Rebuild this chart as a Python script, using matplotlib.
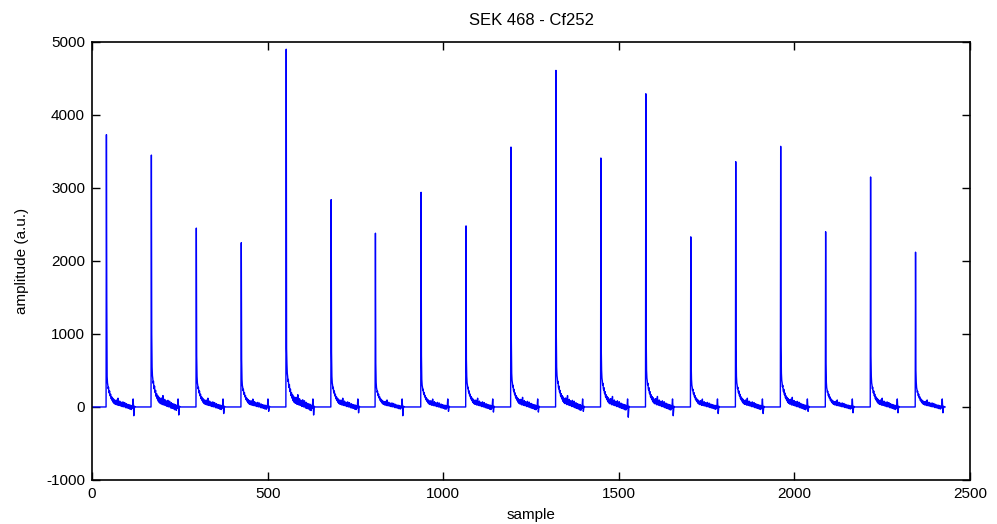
import numpy as np
import matplotlib.pyplot as plt

# pulse onsets (sample index) and peak heights
onsets = [40, 168, 296, 424, 552, 680, 806, 936, 1064, 1192, 1320, 1448,
          1576, 1704, 1832, 1960, 2088, 2216, 2344]
peaks = [3730, 3450, 2450, 2250, 4900, 2840, 2380, 2940, 2480, 3560, 4610,
         3410, 4290, 2330, 3360, 3570, 2400, 3150, 2120]
# value right after the peak (shoulder)
shoulders = [1450, 1000, 700, 650, 800, 750, 600, 700, 650, 900, 1000,
             800, 950, 600, 800, 850, 600, 700, 500]
# tail scaling and glitch depth per pulse
tail_scale = [1.0, 1.3, 1.0, 0.9, 1.4, 1.0, 0.8, 0.9, 1.0, 1.1, 1.3,
              1.2, 1.2, 0.9, 1.0, 1.1, 0.8, 1.0, 0.8]
glitch_depth = [-120, -110, -90, -60, -110, -80, -120, -60, -70, -70, -60,
                -140, -120, -90, -90, -60, -80, -80, -80]

# decaying noisy tail following each pulse (a.u.)
tail = [420, 330, 300, 250, 270, 210, 190, 220, 160, 150, 175, 120, 110,
        140, 95, 85, 120, 70, 60, 105, 50, 45, 90, 55, 35, 75, 95, 40, 35,
        25, 80, 120, 40, 25, 20, 55, 80, 25, 15, 30, 65, 30, 10, 5, 45, 70,
        20, 5, 0, 30, 60, 15, 0, -10, 25, 45, 5, -15, 15, 35, 0, -20, 10,
        30, -5, -30, 5, 25, -10, -35, 0, 15, -15]
glitch = [40, 110, 20, -1.0, -0.5, 10]

n_samples = 2430
trace = np.zeros(n_samples)
for t0, pk, sh, ts, gd in zip(onsets, peaks, shoulders, tail_scale, glitch_depth):
    trace[t0 + 1] = pk
    trace[t0 + 2] = sh
    seg = np.array(tail) * ts
    end = min(t0 + 3 + len(seg), n_samples)
    trace[t0 + 3:end] = seg[:end - t0 - 3]
    for j, g in enumerate(glitch):
        idx = end + j
        if idx < n_samples:
            trace[idx] = g * -gd if abs(g) <= 1 else g

plt.rcParams['font.family'] = ['Liberation Sans', 'DejaVu Sans']
plt.rcParams['font.size'] = 11
plt.rcParams['axes.unicode_minus'] = False

fig = plt.figure(figsize=(9.97, 5.24), dpi=100)
ax = fig.add_axes([0.0923, 0.084, 0.8806, 0.836])
ax.plot(np.arange(n_samples), trace, color='#0000ff', linewidth=1.0)
ax.set_xlim(0, 2500)
ax.set_ylim(-1000, 5000)
ax.set_xticks([0, 500, 1000, 1500, 2000, 2500])
ax.set_yticks([-1000, 0, 1000, 2000, 3000, 4000, 5000])
ax.tick_params(direction='in', top=True, right=True, length=6, width=1, pad=5)
for s in ax.spines.values():
    s.set_linewidth(1.2)
ax.set_xlabel('sample', labelpad=5)
ax.set_ylabel('amplitude (a.u.)', labelpad=12)
ax.set_title('SEK 468 - Cf252', fontsize=12, pad=12)
fig.savefig('out.png', dpi=100)
